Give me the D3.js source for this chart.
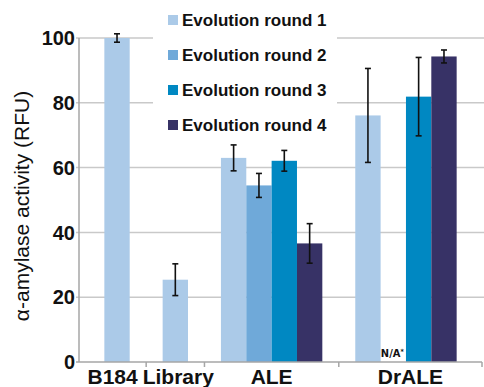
<!DOCTYPE html>
<html>
<head>
<meta charset="utf-8">
<script src="https://cdn.jsdelivr.net/npm/d3@7"></script>
<style>
  body { margin: 0; background: #fff; }
  text { font-family: "Liberation Sans", Arial, sans-serif; }
</style>
</head>
<body>
<div id="chart"></div>
<script>
// podaci
const categories = ["B184", "Library", "ALE", "DrALE"];
const seriesNames = ["Evolution round 1", "Evolution round 2", "Evolution round 3", "Evolution round 4"];
const round1 = [100, 25.4, 63.0, 76.1];
const round1Err = [1.3, 4.9, 4.0, 14.5];
const round2 = [null, null, 54.5, null];
const round2Err = [null, null, 3.7, null];
const round3 = [null, null, 62.1, 81.9];
const round3Err = [null, null, 3.2, 12.1];
const round4 = [null, null, 36.6, 94.3];
const round4Err = [null, null, 6.1, 2.0];
const yTicks = [0, 20, 40, 60, 80, 100];

const colors = ["#abcae8", "#6fa9d9", "#0088c2", "#373266"];

var width = 484;
var height = 387;
var margin = { top: 38, right: 2, bottom: 25, left: 79 };

var values = [round1, round2, round3, round4];
var errors = [round1Err, round2Err, round3Err, round4Err];

// broj mjesta (slotova) po kategoriji = zadnja serija koja ima vrijednost
var slots = categories.map((c, i) => {
    var last = 0;
    values.forEach((s, j) => { if (s[i] !== null) last = j + 1; });
    return last;
});
var outer = 1.0;   // razmak na rubovima (u sirinama stupca)
var gap = 1.3;     // razmak izmedu grupa
var starts = [];
var acc = outer;
slots.forEach(n => { starts.push(acc); acc += n + gap; });
var totalUnits = acc - gap + outer;

// granice kategorija (za crtice na x osi)
var bounds = [0];
starts.forEach((s, i) => {
    bounds.push(i < starts.length - 1 ? s + slots[i] + gap / 2 : totalUnits);
});

var svg = d3.select("#chart")
    .append("svg")
    .attr("width", width)
    .attr("height", height);

var x = d3.scaleLinear()
    .domain([0, totalUnits])
    .range([margin.left, width - margin.right]);

var y = d3.scaleLinear()
    .domain([0, 100])
    .range([height - margin.bottom, margin.top]);

var unit = x(1) - x(0);

// mrezne linije
svg.append("g")
    .selectAll("line")
    .data(yTicks.filter(d => d > 0))
    .enter()
    .append("line")
    .attr("x1", margin.left - 3)
    .attr("x2", width)
    .attr("y1", d => y(d))
    .attr("y2", d => y(d))
    .attr("stroke", "#c9c9c9")
    .attr("stroke-width", 1.5);

// pozadina legende prekriva mrezu
svg.append("rect")
    .attr("x", 153)
    .attr("y", 0)
    .attr("width", 184)
    .attr("height", 142)
    .attr("fill", "#fff");

// y os
svg.append("line")
    .attr("x1", margin.left).attr("x2", margin.left)
    .attr("y1", y(100)).attr("y2", y(0))
    .attr("stroke", "#a6a6a6").attr("stroke-width", 1.5);

svg.append("g")
    .selectAll("text")
    .data(yTicks)
    .enter()
    .append("text")
    .attr("x", margin.left - 4)
    .attr("y", d => y(d))
    .attr("dy", "0.36em")
    .attr("text-anchor", "end")
    .style("font-size", "20px")
    .style("font-weight", "bold")
    .attr("fill", "#111")
    .text(d => d);

// stupci
values.forEach((serie, j) => {
    var data = categories.map((c, i) => ({ i: i, v: serie[i], e: errors[j][i] }))
        .filter(d => d.v !== null);
    svg.append("g")
        .selectAll("rect")
        .data(data)
        .enter()
        .append("rect")
        .attr("x", d => x(starts[d.i] + j))
        .attr("y", d => y(d.v))
        .attr("width", unit)
        .attr("height", d => y(0) - y(d.v))
        .attr("fill", colors[j]);

    // error barovi
    var eb = svg.append("g")
        .attr("stroke", "#111")
        .attr("stroke-width", 1.6)
        .selectAll("g")
        .data(data)
        .enter()
        .append("g");
    var cx = d => x(starts[d.i] + j + 0.5);
    eb.append("line")
        .attr("x1", cx).attr("x2", cx)
        .attr("y1", d => y(d.v + d.e)).attr("y2", d => y(d.v - d.e));
    eb.append("line")
        .attr("x1", d => cx(d) - 3).attr("x2", d => cx(d) + 3)
        .attr("y1", d => y(d.v + d.e)).attr("y2", d => y(d.v + d.e));
    eb.append("line")
        .attr("x1", d => cx(d) - 3).attr("x2", d => cx(d) + 3)
        .attr("y1", d => y(d.v - d.e)).attr("y2", d => y(d.v - d.e));
});

// N/A oznake (null unutar slotova kategorije)
values.forEach((serie, j) => {
    categories.forEach((c, i) => {
        if (serie[i] === null && j < slots[i]) {
            var t = svg.append("text")
                .attr("x", x(starts[i] + j + 0.5) - 1)
                .attr("y", y(0) - 5)
                .attr("text-anchor", "middle")
                .style("font-family", "'DejaVu Sans Condensed', 'Liberation Sans Narrow', sans-serif")
                .style("font-size", "11px")
                .style("font-weight", "bold")
                .attr("fill", "#111")
                .text("N/A");
            t.append("tspan")
                .attr("dy", "-0.4em")
                .style("font-size", "7px")
                .text("*");
        }
    });
});

// x os
svg.append("line")
    .attr("x1", margin.left - 3).attr("x2", width - margin.right)
    .attr("y1", y(0)).attr("y2", y(0))
    .attr("stroke", "#a6a6a6").attr("stroke-width", 1.5);

svg.append("g")
    .selectAll("line")
    .data(bounds.slice(1))
    .enter()
    .append("line")
    .attr("x1", d => x(d))
    .attr("x2", d => x(d))
    .attr("y1", y(0))
    .attr("y2", y(0) + 5)
    .attr("stroke", "#a6a6a6").attr("stroke-width", 1.5);

svg.append("g")
    .selectAll("text")
    .data(categories)
    .enter()
    .append("text")
    .attr("x", (d, i) => x((bounds[i] + bounds[i + 1]) / 2) + (i === 1 ? 3 : 0))
    .attr("y", height - 3)
    .attr("text-anchor", "middle")
    .style("font-size", "21px")
    .style("font-weight", "bold")
    .attr("fill", "#111")
    .text(d => d);

// legenda
var leg = svg.append("g")
    .selectAll("g")
    .data(seriesNames)
    .enter()
    .append("g")
    .attr("transform", (d, i) => "translate(168," + (20 + i * 35) + ")");

leg.append("rect")
    .attr("x", 0).attr("y", -5)
    .attr("width", 10).attr("height", 10)
    .attr("fill", (d, i) => colors[i]);

leg.append("text")
    .attr("x", 14)
    .attr("dy", "0.36em")
    .style("font-size", "17px")
    .style("font-weight", "bold")
    .attr("fill", "#111")
    .text(d => d);

// naslov y osi
svg.append("text")
    .attr("transform", "translate(29," + 206 + ") rotate(-90)")
    .attr("text-anchor", "middle")
    .style("font-size", "21px")
    .attr("fill", "#111")
    .text("\u03b1-amylase activity (RFU)");
</script>
</body>
</html>
